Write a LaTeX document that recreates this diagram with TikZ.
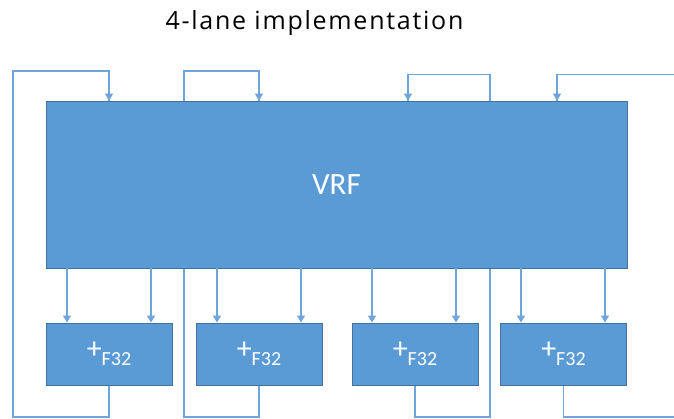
\documentclass[tikz,border=0pt]{standalone}
\usepackage{fontspec}
\setmainfont{Carlito}
\newfontfamily\headfont[LetterSpace=7]{Open Sans}
\usetikzlibrary{arrows.meta}
\definecolor{boxfill}{HTML}{5B9BD5}
\definecolor{boxedge}{HTML}{41719C}
\definecolor{wire}{HTML}{6FA5DA}
\tikzset{
  unit/.style={draw=boxedge, fill=boxfill, line width=0.8pt, inner sep=0pt, text=white},
  feed/.style={draw=wire, line width=1.3pt, -{Triangle[width=8pt,length=7pt]}},
  loop/.style={draw=wire, line width=1.3pt},
}
\begin{document}
\begin{tikzpicture}[x=1pt,y=-1pt]
  \useasboundingbox (0,0) rectangle (674,419);
  \node[anchor=base, inner sep=0pt, font=\headfont\fontsize{25}{28}\selectfont] (title) at (314.5,29.3) {4-lane implementation};
  % result write-back loops (drawn first so the register file covers them)
  \coordinate (e1) at (13,417);
  \coordinate (a1) at (109,354);
  \coordinate (a2) at (259,354);
  \coordinate (a3) at (415,354);
  \coordinate (a4) at (563.5,354);
  \draw[loop] (a1) -- (a1 |- e1) -- (e1) -- (13,71) -- (109,71) -- (109,110);
  \draw[loop] (a2) -- (a2 |- e1) -- (184,417) -- (184,71) -- (259,71) -- (259,110);
  \draw[loop] (a3) -- (a3 |- e1) -- (490,417) -- (490,74.5) -- (408,74.5) -- (408,110);
  \draw[loop] (a4) -- (a4 |- e1) -- (674,417);
  \draw[loop] (674,74.5) -- (557,74.5) -- (557,110);
  % register file
  \node[unit, minimum width=581pt, minimum height=167pt, font=\fontsize{31}{34}\selectfont] (vrf) at (336.5,184.5) {VRF};
  % four adders
  \foreach \i/\cx in {1/109, 2/259, 3/415, 4/563.5}{
    \node[unit, minimum width=126pt, minimum height=62pt] (add\i) at (\cx,354)
      {\raisebox{1pt}{\fontsize{30}{30}\selectfont +}{\fontsize{20}{20}\selectfont\raisebox{-6pt}{F32}}};
  }
  % write-back arrowheads into the register file
  \foreach \x/\y in {109/70.4, 259/70.4, 408/73.9, 557/73.9}{
    \draw[feed] (\x,\y) -- (vrf.north -| \x,0);
  }
  % operand paths VRF -> adders
  \foreach \i/\a/\b in {1/67/151, 2/217/301, 3/372/456, 4/521/605}{
    \draw[feed] (vrf.south -| \a,0) -- (add\i.north -| \a,0);
    \draw[feed] (vrf.south -| \b,0) -- (add\i.north -| \b,0);
  }
\end{tikzpicture}
\end{document}
